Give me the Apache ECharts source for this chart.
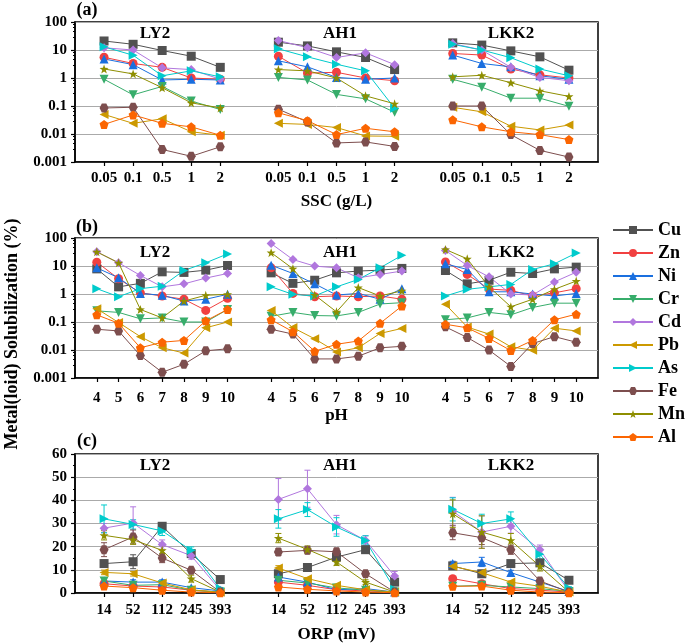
<!DOCTYPE html>
<html>
<head>
<meta charset="utf-8">
<script src="https://cdn.jsdelivr.net/npm/echarts@6/dist/echarts.min.js"></script>
<style>
  html, body { margin: 0; padding: 0; background: #fff; }
  #chart { width: 685px; height: 644px; }
</style>
</head>
<body>
<div id="chart"></div>
<script>
const elements = ['Cu', 'Zn', 'Ni', 'Cr', 'Cd', 'Pb', 'As', 'Fe', 'Mn', 'Al'];
const sites = ['LY2', 'AH1', 'LKK2'];
const sscLabels = ['0.05', '0.1', '0.5', '1', '2'];
const phLabels = ['4', '5', '6', '7', '8', '9', '10'];
const orpLabels = ['14', '52', '112', '245', '393'];

// (a) SSC, rows follow `elements`
const sscLY2 = [
  [21, 16, 9.6, 6, 2.4],
  [5.5, 3.3, 2.4, 1.0, 0.9],
  [4.8, 3.0, 0.85, 0.9, 0.85],
  [0.9, 0.25, 0.5, 0.15, 0.075],
  [12, 10, 2.3, 2.0, 0.9],
  [0.05, 0.024, 0.035, 0.012, 0.009],
  [13, 6.5, 1.2, 1.8, 1.1],
  [0.085, 0.09, 0.0028, 0.0016, 0.0035],
  [2.1, 1.4, 0.45, 0.13, 0.085],
  [0.022, 0.048, 0.024, 0.018, 0.009]
];
const sscAH1 = [
  [19, 14, 8.6, 5.4, 2.0],
  [6, 1.5, 1.6, 1.0, 0.8],
  [4.1, 2.5, 1.05, 0.9, 1.0],
  [1.05, 0.85, 0.26, 0.18, 0.06],
  [22, 12, 5.4, 7.9, 3.0],
  [0.024, 0.022, 0.017, 0.0085, 0.0083],
  [11, 5.7, 3.1, 1.8, 0.083],
  [0.077, 0.027, 0.0048, 0.0052, 0.0036],
  [2.0, 1.8, 1.0, 0.23, 0.12],
  [0.057, 0.03, 0.0095, 0.016, 0.012]
];
const sscLKK2 = [
  [18, 15, 9.3, 5.7, 1.9],
  [7.5, 6.6, 2.1, 1.3, 1.0],
  [6.6, 3.3, 2.5, 1.2, 0.9],
  [0.9, 0.47, 0.19, 0.19, 0.097],
  [17, 10, 2.4, 1.05, 0.8],
  [0.09, 0.062, 0.019, 0.014, 0.021],
  [16, 10, 5.3, 2.1, 1.2],
  [0.1, 0.1, 0.0095, 0.0026, 0.0015],
  [1.1, 1.25, 0.68, 0.35, 0.22],
  [0.032, 0.018, 0.012, 0.0095, 0.0063]
];

// (b) pH
const phLY2 = [
  [7.9, 1.8, 2.4, 6.2, 5.9, 7.1, 10.4],
  [13.7, 3.5, 1.1, 0.85, 0.65, 0.26, 0.7],
  [8.6, 3.8, 1.05, 0.9, 0.56, 0.65, 0.97],
  [0.25, 0.22, 0.13, 0.14, 0.1, 0.1, 0.28],
  [32, 13, 4.6, 1.8, 2.3, 3.7, 5.4],
  [0.3, 0.096, 0.03, 0.012, 0.0078, 0.062, 0.1],
  [1.55, 0.8, 1.55, 1.9, 6.9, 13, 27],
  [0.055, 0.048, 0.0063, 0.0016, 0.0031, 0.0094, 0.011],
  [32, 13, 0.28, 0.14, 0.56, 0.9, 0.97],
  [0.18, 0.09, 0.012, 0.019, 0.022, 0.11, 0.28]
];
const phAH1 = [
  [5.7, 2.4, 3.1, 5.7, 6.6, 7.1, 8.2],
  [8.6, 1.05, 0.8, 0.85, 0.8, 0.85, 0.65],
  [10.7, 5.4, 2.3, 0.92, 1.05, 0.65, 1.55],
  [0.16, 0.22, 0.17, 0.165, 0.22, 0.44, 0.49],
  [63, 17, 9.9, 8.6, 3.8, 5, 6.6],
  [0.26, 0.063, 0.025, 0.0085, 0.012, 0.039, 0.059],
  [1.8, 0.97, 0.85, 1.8, 3.3, 8.6, 24],
  [0.055, 0.037, 0.0048, 0.0048, 0.006, 0.012, 0.0135],
  [30, 8, 0.92, 0.23, 1.7, 0.85, 1.3],
  [0.12, 0.045, 0.009, 0.016, 0.021, 0.09, 0.37]
];
const phLKK2 = [
  [6.9, 2.3, 3.1, 6.0, 5.4, 7.9, 9.1],
  [14, 5, 1.5, 1.35, 0.85, 1.1, 1.55],
  [12, 7.5, 1.2, 1.2, 1.0, 0.85, 1.05],
  [0.12, 0.14, 0.22, 0.18, 0.33, 0.47, 0.47],
  [36, 10.4, 4.1, 1.0, 0.92, 2.7, 6.0],
  [0.43, 0.066, 0.037, 0.013, 0.0098, 0.06, 0.048],
  [0.85, 1.47, 1.8, 2.2, 7.5, 12, 29],
  [0.067, 0.028, 0.0099, 0.0026, 0.017, 0.03, 0.019],
  [39, 18, 1.8, 0.35, 0.65, 1.47, 2.9],
  [0.083, 0.062, 0.026, 0.0095, 0.022, 0.12, 0.19]
];

// (c) ORP
const orpLY2 = [
  [12.7, 13.5, 28.8, 17, 5.8],
  [4, 3, 2.6, 1.2, 0.4],
  [5.2, 4.7, 4.7, 2.3, 0.9],
  [5.2, 3.3, 3.6, 1.2, 0.4],
  [28, 30.2, 20.9, 16.1, 1.2],
  [8.9, 8.3, 4.3, 1.4, 0.3],
  [32, 29.6, 26.8, 18.4, 1.9],
  [18.7, 24.2, 15.1, 9.8, 0.4],
  [24.9, 23, 18.4, 6.2, 0.4],
  [3, 2.3, 1.2, 0.4, 0.1]
];
const orpAH1 = [
  [8.3, 11, 15.5, 18.7, 4.7],
  [4.7, 3.3, 1.4, 0.9, 0.4],
  [6.9, 4.7, 1.4, 1.9, 0.4],
  [5.5, 4.3, 2.2, 1.2, 0.4],
  [40.4, 45, 29.5, 22.7, 7.3],
  [10.8, 6.2, 3.3, 1.4, 0.4],
  [32, 36, 28.5, 22.7, 1.6],
  [17.7, 18.4, 17.8, 8.3, 0.4],
  [23.7, 18.8, 13.4, 4.7, 0.4],
  [2.6, 1.6, 0.9, 0.4, 0.1]
];
const orpLKK2 = [
  [11.7, 8.3, 12.7, 13, 5.5],
  [6.2, 4, 1.9, 1.2, 0.4],
  [12.7, 13.4, 8.8, 4.7, 0.7],
  [2.9, 3.3, 2.6, 1.9, 0.7],
  [35.3, 26.3, 28.8, 18.7, 0.7],
  [11.5, 8.8, 4.7, 2.9, 0.4],
  [36.1, 30, 32, 16.7, 2.2],
  [26, 23.9, 18.7, 5.2, 0.4],
  [34.2, 26.3, 22.7, 11.5, 0.4],
  [2.9, 3, 1.2, 0.4, 0.1]
];
// error bars for (c)
const orpErrLY2 = [
  [1.5, 3, 1.5, 1, 0.5], [1, 0.5, 0.5, 0.3, 0], [1, 1, 1, 0.5, 0], [1, 0.5, 0.5, 0.3, 0],
  [2, 7, 2, 1.5, 0.5], [1, 1, 0.5, 0.3, 0], [6, 2, 2, 1.5, 0.5], [3, 3, 2, 1, 0],
  [2, 2, 2, 1.5, 0], [0.5, 0.5, 0.3, 0, 0]
];
const orpErrAH1 = [
  [1, 1, 1, 1, 1], [0.5, 0.5, 0.3, 0.3, 0], [1, 0.5, 0.5, 0.5, 0], [0.5, 0.5, 0.3, 0.3, 0],
  [9, 8, 4, 2, 2], [1, 0.5, 0.5, 0.3, 0], [4, 3, 4, 2, 0.5], [1.5, 1.5, 1.5, 1, 0],
  [2, 1.5, 1.5, 1, 0], [0.5, 0.5, 0.3, 0, 0]
];
const orpErrLKK2 = [
  [1, 1, 1, 1, 0.5], [1, 0.5, 0.3, 0.3, 0], [1, 2, 1, 0.5, 0], [0.5, 0.5, 0.5, 0.3, 0],
  [6, 7, 3, 2, 0.5], [1, 1, 0.5, 0.5, 0], [5, 4, 3, 2, 0.5], [3, 3, 2, 1, 0],
  [6, 7, 3, 2, 0], [0.5, 0.5, 0.3, 0, 0]
];

const colors = ['#515151', '#F14040', '#1A6FDF', '#37AD6B', '#B177DE', '#CC9900', '#00CBCC', '#7D4E4E', '#8E8E00', '#FB6501'];
const symbols = [
  'rect', 'circle', 'triangle',
  'path://M0,0L10,0L5,9Z',
  'diamond',
  'path://M0,5L9,0L9,10Z',
  'path://M0,0L9,5L0,10Z',
  'path://M2.5,0L7.5,0L10,5L7.5,10L2.5,10L0,5Z',
  'path://M10,0L12.35,6.76L19.51,6.91L13.8,11.24L15.88,18.09L10,14L4.12,18.09L6.2,11.24L0.49,6.91L7.65,6.76Z',
  'path://M10,0L19.51,6.91L15.88,18.09L4.12,18.09L0.49,6.91Z'
];

const FONT = '"Liberation Serif", "Times New Roman", serif';

// category list with empty slots around each site group
function cats(labels) {
  const c = [''];
  sites.forEach(() => { c.push(...labels); c.push(''); });
  return c;
}

function logLabel(v) {
  const e = Math.round(Math.log10(v));
  return e >= 0 ? String(Math.pow(10, e)) : Math.pow(10, e).toFixed(-e);
}

const gridTops = [22, 238, 454];
const grids = gridTops.map(t => ({
  left: 75, right: 87, top: t, height: 140,
  show: true, borderColor: '#000', borderWidth: 1.5, backgroundColor: 'transparent'
}));

const xNames = ['SSC (g/L)', 'pH', 'ORP (mV)'];
const xGaps = [31, 29, 33];
const xMargins = [9, 13, 10];
const xCats = [cats(sscLabels), cats(phLabels), cats(orpLabels)];
const xAxes = xCats.map((c, i) => ({
  type: 'category', gridIndex: i, data: c, boundaryGap: false,
  name: xNames[i], nameLocation: 'middle', nameGap: xGaps[i],
  nameTextStyle: { fontFamily: FONT, fontWeight: 'bold', fontSize: 17, color: '#000' },
  axisLine: { lineStyle: { color: '#000', width: 1.5 } },
  axisTick: { length: 4, lineStyle: { color: '#000', width: 1.2 }, interval: (idx, val) => val !== '' },
  axisLabel: { interval: 0, margin: xMargins[i], fontFamily: FONT, fontWeight: 'bold', fontSize: 15, color: '#000' },
  splitLine: { show: false }
}));

const logAxis = i => ({
  type: 'log', logBase: 10, gridIndex: i, min: 0.001, max: 100,
  axisLine: { show: true, lineStyle: { color: '#000', width: 1.5 } },
  axisTick: { show: true, length: 4, lineStyle: { color: '#000', width: 1.2 } },
  minorTick: { show: true, length: 2, splitNumber: 5, lineStyle: { color: '#000' } },
  axisLabel: { formatter: logLabel, margin: 8, fontFamily: FONT, fontWeight: 'bold', fontSize: 15, color: '#000' },
  splitLine: { show: true, lineStyle: { color: '#aaaaaa', width: 1 } }
});
const yAxes = [logAxis(0), logAxis(1), {
  type: 'value', gridIndex: 2, min: 0, max: 60, interval: 10,
  axisLine: { show: true, lineStyle: { color: '#000', width: 1.5 } },
  axisTick: { show: true, length: 4, lineStyle: { color: '#000', width: 1.2 } },
  minorTick: { show: true, length: 2, splitNumber: 2, lineStyle: { color: '#000' } },
  axisLabel: { margin: 8, fontFamily: FONT, fontWeight: 'bold', fontSize: 15, color: '#000' },
  splitLine: { show: true, lineStyle: { color: '#aaaaaa', width: 1 } }
}];

const series = [];
const panels = [[sscLY2, sscAH1, sscLKK2], [phLY2, phAH1, phLKK2], [orpLY2, orpAH1, orpLKK2]];
panels.forEach((tables, g) => {
  elements.forEach((el, i) => {
    const data = [null];
    tables.forEach(t => { t[i].forEach(v => data.push(v)); data.push(null); });
    series.push({
      type: 'line', name: el, xAxisIndex: g, yAxisIndex: g, data,
      symbol: symbols[i], symbolSize: 9, connectNulls: false,
      itemStyle: { color: colors[i] },
      lineStyle: { color: colors[i], width: 1 },
      emphasis: { disabled: true }
    });
  });
});

// error bars in (c)
const errTables = [orpErrLY2, orpErrAH1, orpErrLKK2];
const errData = [];
errTables.forEach((t, s) => {
  t.forEach((row, i) => {
    row.forEach((e, j) => {
      if (e > 0) errData.push([1 + s * 6 + j, panels[2][s][i][j], e, i]);
    });
  });
});
series.push({
  type: 'custom', xAxisIndex: 2, yAxisIndex: 2, data: errData, z: 1,
  renderItem: (params, api) => {
    const x = api.value(0), y = api.value(1), e = api.value(2);
    const c = colors[api.value(3)];
    const top = api.coord([x, y + e]);
    const bot = api.coord([x, Math.max(y - e, 0)]);
    const w = 3;
    const st = { stroke: c, lineWidth: 1 };
    return {
      type: 'group', children: [
        { type: 'line', shape: { x1: top[0], y1: top[1], x2: bot[0], y2: bot[1] }, style: st },
        { type: 'line', shape: { x1: top[0] - w, y1: top[1], x2: top[0] + w, y2: top[1] }, style: st },
        { type: 'line', shape: { x1: bot[0] - w, y1: bot[1], x2: bot[0] + w, y2: bot[1] }, style: st }
      ]
    };
  }
});

const txt = (text, x, y, size, extra) => Object.assign({
  type: 'text', x, y,
  style: { text, fontFamily: FONT, fontWeight: 'bold', fontSize: size, fill: '#000', align: 'center', verticalAlign: 'middle' }
}, extra || {});

const titleX = [155, 340, 511];
const titleY = [34, 253, 466];
const graphic = [];
titleY.forEach(y => sites.forEach((s, k) => graphic.push(txt(s, titleX[k], y, 17))));
graphic.push(txt('(a)', 87, 10, 18));
graphic.push(txt('(b)', 87, 227, 18));
graphic.push(txt('(c)', 87, 441, 18));
graphic.push(txt('Metal(loid) Solubilization (%)', 12, 334, 18, { rotation: Math.PI / 2 }));

const chart = echarts.init(document.getElementById('chart'), null, { renderer: 'canvas' });
chart.setOption({
  animation: false,
  backgroundColor: '#fff',
  grid: grids,
  xAxis: xAxes,
  yAxis: yAxes,
  legend: {
    data: elements, orient: 'vertical', left: 612, top: 221, padding: 0,
    itemWidth: 40, itemHeight: 10, itemGap: 5,
    textStyle: { fontFamily: FONT, fontWeight: 'bold', fontSize: 18, color: '#000' }
  },
  graphic,
  series
});
</script>
</body>
</html>
